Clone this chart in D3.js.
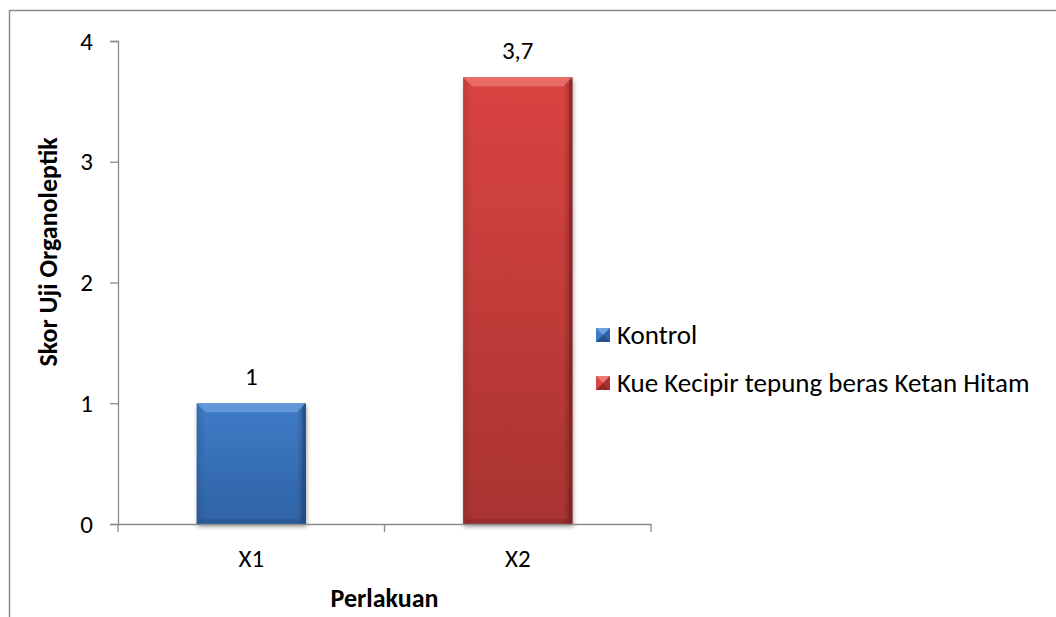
<!DOCTYPE html>
<html>
<head>
<meta charset="utf-8">
<script src="https://cdn.jsdelivr.net/npm/d3@7"></script>
<style>
  html, body { margin: 0; padding: 0; background: #fff; }
  svg { display: block; font-family: Carlito, Lato, "Open Sans", sans-serif; }
</style>
</head>
<body>
<svg id="chart" width="1056" height="617"></svg>
<script>
// Organoleptic test scores per treatment
const categories = ["X1", "X2"];
const seriesNames = ["Kontrol", "Kue Kecipir tepung beras Ketan Hitam"];
const values = [1, 3.7];
const valueLabels = ["1", "3,7"];
const yTicks = [0, 1, 2, 3, 4];

const FONT = "Carlito, Lato, 'Open Sans', sans-serif";
const palette = [
  { light: "#6fa3e0", main: "#3f7bc6", dark: "#2f63a6", edge: "#1f4a80" },
  { light: "#ee7a76", main: "#da4441", dark: "#a83330", edge: "#7f2321" }
];

const svg = d3.select("#chart");
const defs = svg.append("defs");

// chart area frame (partially visible)
svg.append("path")
  .attr("d", "M9.5,617 L9.5,10.5 L1056,10.5")
  .attr("fill", "none").attr("stroke", "#8a8a8a").attr("stroke-width", 1.5);

const plot = { left: 118, right: 651, top: 41, bottom: 524 };

const x = d3.scaleBand().domain(categories).range([plot.left, plot.right]).paddingInner(0).paddingOuter(0);
const y = d3.scaleLinear().domain([0, 4]).range([plot.bottom, plot.top]);
const barW = x.bandwidth() * 0.41;

// gradients
palette.forEach((p, i) => {
  const g = defs.append("linearGradient").attr("id", "grad" + i)
    .attr("x1", 0).attr("y1", 0).attr("x2", 0).attr("y2", 1);
  g.append("stop").attr("offset", "0%").attr("stop-color", p.main);
  g.append("stop").attr("offset", "100%").attr("stop-color", p.dark);
  const h = defs.append("linearGradient").attr("id", "hgrad" + i)
    .attr("x1", 0).attr("y1", 0).attr("x2", 1).attr("y2", 0);
  h.append("stop").attr("offset", "0%").attr("stop-color", "#000").attr("stop-opacity", 0.12);
  h.append("stop").attr("offset", "8%").attr("stop-color", "#000").attr("stop-opacity", 0);
  h.append("stop").attr("offset", "92%").attr("stop-color", "#000").attr("stop-opacity", 0);
  h.append("stop").attr("offset", "100%").attr("stop-color", "#000").attr("stop-opacity", 0.3);
});
const shadow = defs.append("filter").attr("id", "shadow")
  .attr("x", "-10%").attr("y", "-10%").attr("width", "120%").attr("height", "130%");
shadow.append("feGaussianBlur").attr("in", "SourceAlpha").attr("stdDeviation", 2.2);
shadow.append("feOffset").attr("dx", 1).attr("dy", 3).attr("result", "b");
shadow.append("feComponentTransfer").append("feFuncA").attr("type", "linear").attr("slope", 0.35);
const m = shadow.append("feMerge");
m.append("feMergeNode");
m.append("feMergeNode").attr("in", "SourceGraphic");

// bars with bevel
const bars = svg.append("g");
values.forEach((v, i) => {
  const p = palette[i];
  const cx = x(categories[i]) + x.bandwidth() / 2;
  const x0 = cx - barW / 2, x1 = cx + barW / 2;
  const y0 = y(v), y1 = y(0);
  const b = 9;
  const g = bars.append("g");
  g.append("rect").attr("x", x0).attr("y", y0).attr("width", barW).attr("height", y1 - y0)
    .attr("fill", `url(#grad${i})`).attr("filter", "url(#shadow)");
  g.append("rect").attr("x", x0).attr("y", y0).attr("width", barW).attr("height", y1 - y0)
    .attr("fill", `url(#hgrad${i})`);
  // top bevel
  g.append("path").attr("d", `M${x0},${y0} L${x1},${y0} L${x1 - b},${y0 + b} L${x0 + b},${y0 + b} Z`)
    .attr("fill", p.light).attr("opacity", 0.75);
  // bottom bevel
  g.append("path").attr("d", `M${x0},${y1} L${x1},${y1} L${x1 - 5},${y1 - 5} L${x0 + 5},${y1 - 5} Z`)
    .attr("fill", p.edge).attr("opacity", 0.35);
  // right edge
  g.append("path").attr("d", `M${x1},${y0} L${x1},${y1} L${x1 - 3},${y1 - 3} L${x1 - 3},${y0 + 3} Z`)
    .attr("fill", p.edge).attr("opacity", 0.6);
  // value label
  svg.append("text").attr("x", cx).attr("y", y0 - 18)
    .attr("text-anchor", "middle").attr("font-size", 25).attr("fill", "#000")
    .attr("font-family", FONT)
    .text(valueLabels[i]);
});

// y axis
const yAxis = svg.append("g").attr("transform", `translate(${plot.left},0)`)
  .call(d3.axisLeft(y).tickValues(yTicks).tickSize(8).tickPadding(17).tickFormat(d3.format("d")));
yAxis.attr("font-family", FONT).attr("font-size", 25);
yAxis.select(".domain").attr("stroke", "#8a8a8a").attr("stroke-width", 1.3);
yAxis.selectAll(".tick line").attr("stroke", "#8a8a8a").attr("stroke-width", 1.3);
yAxis.selectAll(".tick text").attr("fill", "#000");

// x axis
const xAxis = svg.append("g").attr("transform", `translate(0,${plot.bottom})`)
  .call(d3.axisBottom(x).tickSize(0).tickPadding(25));
xAxis.attr("font-family", FONT).attr("font-size", 25);
xAxis.select(".domain").attr("stroke", "#8a8a8a").attr("stroke-width", 1.3);
xAxis.selectAll(".tick text").attr("fill", "#000");
// category boundary ticks
const bounds = [plot.left, ...categories.map(c => x(c) + x.bandwidth())];
svg.append("g").selectAll("line").data(bounds).join("line")
  .attr("x1", d => d).attr("x2", d => d)
  .attr("y1", plot.bottom).attr("y2", plot.bottom + 8)
  .attr("stroke", "#8a8a8a").attr("stroke-width", 1.3);

// axis titles
svg.append("text").attr("transform", "translate(57,252) rotate(-90)")
  .attr("text-anchor", "middle").attr("font-size", 26).attr("font-weight", "bold")
  .attr("font-family", FONT)
  .text("Skor Uji Organoleptik");
svg.append("text").attr("x", (plot.left + plot.right) / 2).attr("y", 607)
  .attr("text-anchor", "middle").attr("font-size", 26).attr("font-weight", "bold")
  .attr("font-family", FONT)
  .text("Perlakuan");

// legend
const legend = svg.append("g").attr("transform", "translate(596,0)");
seriesNames.forEach((name, i) => {
  const p = palette[i];
  const yy = [335, 383][i];
  const s = 14, gx = 0, gy = yy - 7;
  const lg = legend.append("g");
  lg.append("rect").attr("x", gx).attr("y", gy).attr("width", s).attr("height", s).attr("fill", p.main);
  lg.append("path").attr("d", `M${gx},${gy} L${gx + s},${gy} L${gx + s / 2},${gy + s / 2} Z`).attr("fill", p.light);
  lg.append("path").attr("d", `M${gx + s},${gy} L${gx + s},${gy + s} L${gx + s / 2},${gy + s / 2} Z`).attr("fill", p.dark);
  lg.append("path").attr("d", `M${gx},${gy + s} L${gx + s},${gy + s} L${gx + s / 2},${gy + s / 2} Z`).attr("fill", p.edge).attr("opacity", 0.8);
  lg.append("text").attr("x", 21).attr("y", yy).attr("dy", "0.35em")
    .attr("font-size", 27).attr("fill", "#000").attr("font-family", FONT).text(name);
});
</script>
</body>
</html>
